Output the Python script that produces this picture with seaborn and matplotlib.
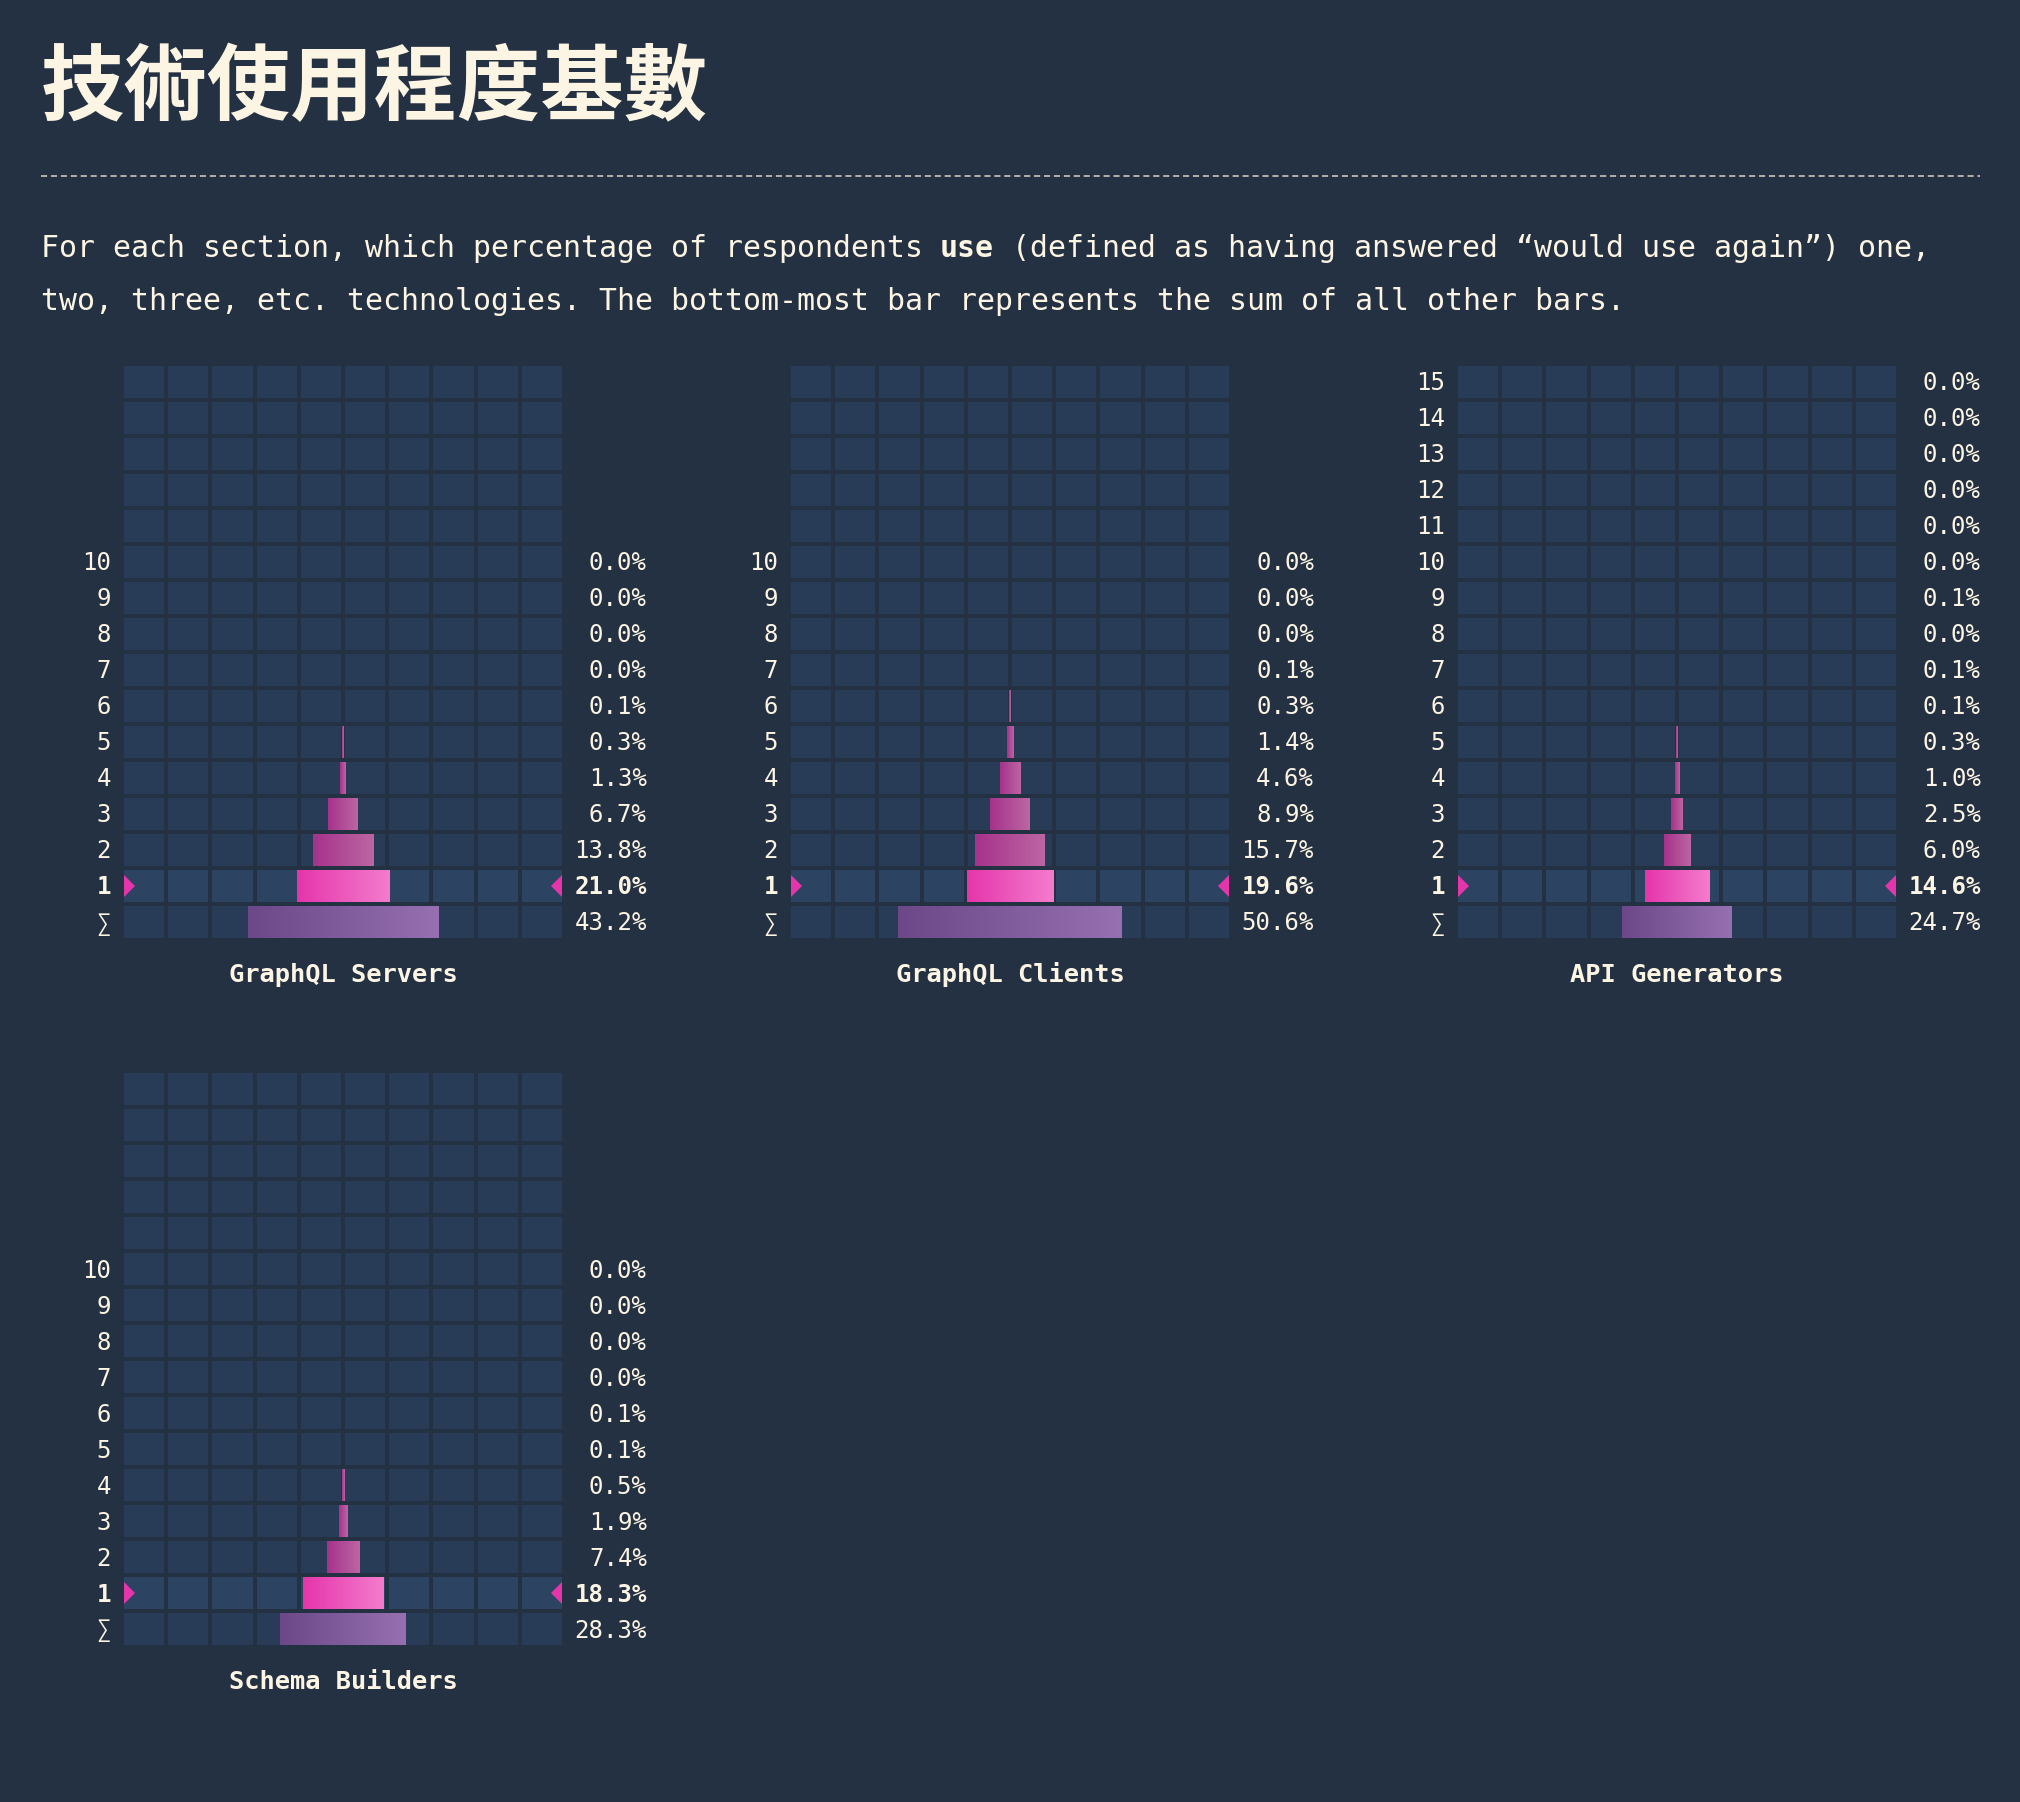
import numpy as np
import matplotlib
matplotlib.use("Agg")
import matplotlib.pyplot as plt
from matplotlib.colors import ListedColormap, LinearSegmentedColormap
from matplotlib.patches import Polygon
import seaborn as sns

# ---------------- data ----------------
TITLE = "技術使用程度基數"
DESC_1A = "For each section, which percentage of respondents "
DESC_1B = "use"
DESC_1C = " (defined as having answered “would use again”) one,"
DESC_2 = "two, three, etc. technologies. The bottom-most bar represents the sum of all other bars."

panel_names = ["GraphQL Servers", "GraphQL Clients", "API Generators", "Schema Builders"]

servers_counts = [10, 9, 8, 7, 6, 5, 4, 3, 2, 1]
servers_pct = [0.0, 0.0, 0.0, 0.0, 0.1, 0.3, 1.3, 6.7, 13.8, 21.0]
servers_total = 43.2

clients_counts = [10, 9, 8, 7, 6, 5, 4, 3, 2, 1]
clients_pct = [0.0, 0.0, 0.0, 0.1, 0.3, 1.4, 4.6, 8.9, 15.7, 19.6]
clients_total = 50.6

api_counts = [15, 14, 13, 12, 11, 10, 9, 8, 7, 6, 5, 4, 3, 2, 1]
api_pct = [0.0, 0.0, 0.0, 0.0, 0.0, 0.0, 0.1, 0.0, 0.1, 0.1, 0.3, 1.0, 2.5, 6.0, 14.6]
api_total = 24.7

schema_counts = [10, 9, 8, 7, 6, 5, 4, 3, 2, 1]
schema_pct = [0.0, 0.0, 0.0, 0.0, 0.1, 0.1, 0.5, 1.9, 7.4, 18.3]
schema_total = 28.3

SUM_LABEL = "∑"

panels = [
    (panel_names[0], servers_counts, servers_pct, servers_total),
    (panel_names[1], clients_counts, clients_pct, clients_total),
    (panel_names[2], api_counts, api_pct, api_total),
    (panel_names[3], schema_counts, schema_pct, schema_total),
]

# ---------------- style ----------------
BG = "#243143"
CELL = "#293c57"
CELL_HI = "#2d4362"
TXT = "#fdf5e4"
MONO = ["DejaVu Sans Mono", "DejaVu Sans"]
CJK = ["Noto Sans CJK TC", "Noto Sans CJK SC", "DejaVu Sans"]

cm_main = LinearSegmentedColormap.from_list("main", ["#e535ab", "#f47ccd"])
cm_other = LinearSegmentedColormap.from_list("other", ["#a6328b", "#bc66a3"])
cm_sum = LinearSegmentedColormap.from_list("sum", ["#6c4888", "#9670b1"])

sns.set_style("dark")
plt.rcParams["font.family"] = MONO

W, H = 2020, 1802
DPI = 100
fig = plt.figure(figsize=(W / DPI, H / DPI), dpi=DPI, facecolor=BG)


def fx(x):
    return x / W


def fy(y):
    return 1 - y / H


# title
fig.text(fx(41), fy(114), TITLE, family=CJK, fontweight="bold", fontsize=60,
         color=TXT, ha="left", va="baseline")

# dashed separator
fig.add_artist(plt.Line2D([fx(41), fx(1980)], [fy(176), fy(176)], transform=fig.transFigure,
                          color="#d8d2c6", linewidth=1.1, linestyle=(0, (4, 2.5))))

# description
DFS = 21.5
cw = 0.602 * DFS * DPI / 72.0
fig.text(fx(41), fy(257), DESC_1A, fontsize=DFS, color=TXT, ha="left", va="baseline", family=MONO)
fig.text(fx(41 + len(DESC_1A) * cw), fy(257), DESC_1B, fontsize=DFS, color=TXT, ha="left",
         va="baseline", family=MONO, fontweight="bold")
fig.text(fx(41 + (len(DESC_1A) + len(DESC_1B)) * cw), fy(257), DESC_1C, fontsize=DFS, color=TXT,
         ha="left", va="baseline", family=MONO)
fig.text(fx(41), fy(310), DESC_2, fontsize=DFS, color=TXT, ha="left", va="baseline", family=MONO)

# panels
N_ROWS = 16
N_COLS = 10
PX_X = 44.2
PX_Y = 36.0
panel_lefts = [124, 791, 1458]
panel_tops = [366, 1073]
LFS = 17.3
BAR_H = 32 / 36
TITLE_OFFSET = 607  # px from grid top to panel title centre

for k, (name, counts, pct, total) in enumerate(panels):
    L = panel_lefts[k % 3]
    T = panel_tops[k // 3]
    ax_top = T - 2
    ax = fig.add_axes([fx(L - 2), fy(ax_top + N_ROWS * PX_Y), (N_COLS * PX_X) / W, (N_ROWS * PX_Y) / H])
    ax.set_facecolor(BG)

    grid = np.zeros((N_ROWS, N_COLS))
    grid[N_ROWS - 2, :] = 1
    sns.heatmap(grid, ax=ax, cmap=ListedColormap([CELL, CELL_HI]), vmin=0, vmax=1, cbar=False,
                linewidths=4 * 72 / DPI, linecolor=BG, xticklabels=False, yticklabels=False)

    rows = [(str(c), p, (N_ROWS - 1 - c)) for c, p in zip(counts, pct)]
    rows.append((SUM_LABEL, total, N_ROWS - 1))

    for label, p, ri in rows:
        yc = ri + 0.5
        is_main = label == "1"
        if label == SUM_LABEL:
            cmap = cm_sum
        elif is_main:
            cmap = cm_main
        else:
            cmap = cm_other
        w = p / 100 * N_COLS
        x0 = N_COLS / 2 - w / 2
        if w > 0:
            ax.barh([yc], [w], left=[x0], height=BAR_H, color=cmap(0.5), linewidth=0, zorder=3)
            if w * PX_X >= 1.0:
                ax.imshow(np.linspace(0, 1, 256).reshape(1, -1),
                          extent=[x0, x0 + w, yc + BAR_H / 2, yc - BAR_H / 2],
                          cmap=cmap, aspect="auto", interpolation="bilinear", zorder=4)
        weight = "bold" if is_main else "normal"
        yb = yc + 8.5 / PX_Y
        ax.text(-11 / PX_X, yb, label, ha="right", va="baseline", fontsize=LFS,
                color=TXT, fontweight=weight, family=MONO, clip_on=False)
        ax.text((2 + 438 + 85) / PX_X, yb, f"{p:.1f}%", ha="right", va="baseline", fontsize=LFS,
                color=TXT, fontweight=weight, family=MONO, clip_on=False)
        if is_main:
            th = 11 / PX_Y
            tw = 11 / PX_X
            gx0 = 2 / PX_X
            gx1 = (2 + 438) / PX_X
            ax.add_patch(Polygon([(gx0, yc - th), (gx0, yc + th), (gx0 + tw, yc)], closed=True,
                                 facecolor="#e535ab", edgecolor="none", zorder=5))
            ax.add_patch(Polygon([(gx1, yc - th), (gx1, yc + th), (gx1 - tw, yc)], closed=True,
                                 facecolor="#e535ab", edgecolor="none", zorder=5))

    title_y = (T + TITLE_OFFSET - ax_top) / PX_Y + 9.3 / PX_Y
    ax.text(N_COLS / 2, title_y, name,
            ha="center", va="baseline", fontsize=18.3, fontweight="bold", color=TXT, family=MONO,
            clip_on=False)

    ax.set_xlim(0, N_COLS)
    ax.set_ylim(N_ROWS, 0)
    ax.set_xticks([])
    ax.set_yticks([])
    ax.set_xlabel("")
    ax.set_ylabel("")
    for s in ax.spines.values():
        s.set_visible(False)

fig.savefig("out.png", dpi=DPI, facecolor=BG)
